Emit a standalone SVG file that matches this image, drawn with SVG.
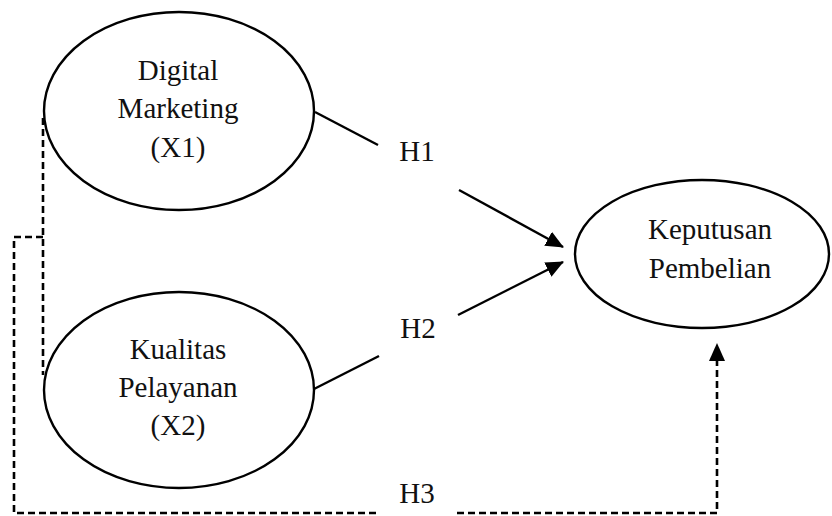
<svg xmlns="http://www.w3.org/2000/svg" width="832" height="516" viewBox="0 0 832 516">
<style>
.node ellipse{fill:#fff;stroke:#000;stroke-width:2.4}
.node text,.lbl{font-family:"Liberation Serif","Times New Roman",serif;font-size:29px;fill:#111;text-anchor:middle}
.ln{stroke:#000;stroke-width:2.4;fill:none}
.dash{stroke:#000;stroke-width:2.6;fill:none;stroke-dasharray:7 4}
</style>
<defs>
<marker id="ah" markerWidth="18" markerHeight="16" refX="17" refY="8" orient="auto" markerUnits="userSpaceOnUse">
<path d="M0,0 L18,8 L0,16 Z" fill="#000"/>
</marker>
</defs>
<rect width="832" height="516" fill="#fff"/>
<g id="connectors">
<line class="ln" x1="315" y1="112" x2="378" y2="145"/>
<line class="ln" x1="459" y1="190" x2="563" y2="247" marker-end="url(#ah)"/>
<line class="ln" x1="314" y1="389" x2="379" y2="356"/>
<line class="ln" x1="458" y1="315" x2="563" y2="262" marker-end="url(#ah)"/>
<path class="dash" d="M43,118 V375"/>
<path class="dash" d="M43,237 H14 V513 H380"/>
<path class="dash" d="M457,513 H717 V344" marker-end="url(#ah)"/>
<text class="lbl" x="417" y="161">H1</text>
<text class="lbl" x="418" y="338">H2</text>
<text class="lbl" x="417" y="503">H3</text>
</g>
<g id="digital-marketing" class="node">
<ellipse cx="179" cy="111" rx="135" ry="99"/>
<text x="178" y="80">Digital</text>
<text x="178" y="118">Marketing</text>
<text x="178" y="157">(X1)</text>
</g>
<g id="kualitas-pelayanan" class="node">
<ellipse cx="179" cy="390" rx="135" ry="98"/>
<text x="178" y="359">Kualitas</text>
<text x="178" y="397">Pelayanan</text>
<text x="178" y="435">(X2)</text>
</g>
<g id="keputusan-pembelian" class="node">
<ellipse cx="702" cy="254" rx="127" ry="74"/>
<text x="710" y="239">Keputusan</text>
<text x="710" y="278">Pembelian</text>
</g>
</svg>
